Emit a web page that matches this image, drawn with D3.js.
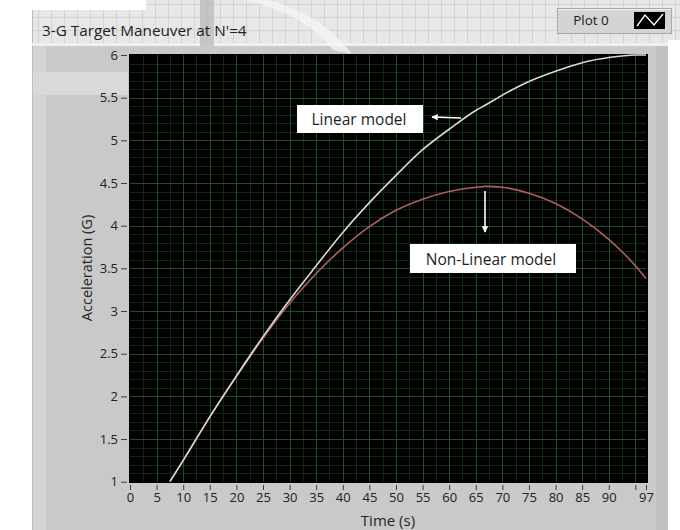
<!DOCTYPE html>
<html>
<head>
<meta charset="utf-8">
<script src="https://cdn.jsdelivr.net/npm/d3@7"></script>
<style>
  html, body { margin: 0; padding: 0; background: #ffffff; }
  svg { display: block; }
  text { font-family: "Open Sans", "Noto Sans", sans-serif; }
</style>
</head>
<body>
<svg id="chart" width="680" height="530"></svg>
<script>
// Time samples (s) shared by both acceleration histories
const time = [7.5, 10, 15, 20, 25, 30, 35, 40, 45, 50, 55, 60, 65, 67, 70, 75, 80, 85, 90, 95, 97];
// Missile acceleration (G), linear engagement model
const linearAccel = [1.0, 1.25, 1.76, 2.24, 2.70, 3.13, 3.53, 3.92, 4.27, 4.59, 4.89, 5.13, 5.35, 5.42, 5.53, 5.69, 5.81, 5.91, 5.97, 6.0, 6.0];
// Missile acceleration (G), non-linear engagement model
const nonLinearAccel = [1.0, 1.25, 1.76, 2.23, 2.68, 3.09, 3.44, 3.74, 3.99, 4.18, 4.31, 4.40, 4.45, 4.46, 4.45, 4.38, 4.26, 4.08, 3.84, 3.53, 3.38];

const xTicks = [0, 5, 10, 15, 20, 25, 30, 35, 40, 45, 50, 55, 60, 65, 70, 75, 80, 85, 90, 95, 97];
const xTickLabels = ["0", "5", "10", "15", "20", "25", "30", "35", "40", "45", "50", "55", "60", "65", "70", "75", "80", "85", "90", "", "97"];
const yTicks = [1, 1.5, 2, 2.5, 3, 3.5, 4, 4.5, 5, 5.5, 6];
const yTickLabels = ["1", "1.5", "2", "2.5", "3", "3.5", "4", "4.5", "5", "5.5", "6"];

const svg = d3.select("#chart");

// ---- front panel / graph frame ----
const frame = svg.append("g");
// title strip with the panel grid
frame.append("rect").attr("x", 32).attr("y", 0).attr("width", 648).attr("height", 46).attr("fill", "#e7e7e7");
const gridStrip = frame.append("g").attr("stroke", "#d2d2d2").attr("stroke-width", 1);
for (let gx = 38; gx < 680; gx += 13) {
  gridStrip.append("line").attr("x1", gx + 0.5).attr("x2", gx + 0.5).attr("y1", 0).attr("y2", 46);
}
[4, 17, 30, 43].forEach(gy => gridStrip.append("line").attr("x1", 32).attr("x2", 680).attr("y1", gy + 0.5).attr("y2", gy + 0.5));

// graph body
frame.append("rect").attr("x", 32).attr("y", 46).attr("width", 636).attr("height", 484).attr("fill", "#c9c9c9");
frame.append("rect").attr("x", 33).attr("y", 46).attr("width", 13).attr("height", 484).attr("fill", "#d3d3d3");
frame.append("line").attr("x1", 32.5).attr("x2", 32.5).attr("y1", 0).attr("y2", 530).attr("stroke", "#bcbcbc");
frame.append("rect").attr("x", 656).attr("y", 46).attr("width", 12).attr("height", 484).attr("fill", "#c0c0c0");
frame.append("rect").attr("x", 668).attr("y", 40).attr("width", 12).attr("height", 490).attr("fill", "#ffffff");
frame.append("rect").attr("x", 32).attr("y", 43).attr("width", 636).attr("height", 3).attr("fill", "#f0f0f0");

// large faint letterform crossing the top of the panel
const mark = svg.append("g");
mark.append("rect").attr("x", 0).attr("y", 0).attr("width", 146).attr("height", 10).attr("fill", "#ffffff");
mark.append("rect").attr("x", 200).attr("y", 0).attr("width", 14).attr("height", 46).attr("fill", "#b9b9b9").attr("opacity", 0.75);
mark.append("path")
  .attr("d", "M243,0 L268,0 C300,8 330,25 352,54 L333,50 C318,30 290,10 243,0 Z")
  .attr("fill", "#f6f6f6").attr("opacity", 0.75);
mark.append("rect").attr("x", 33).attr("y", 72).attr("width", 95).attr("height", 23).attr("fill", "#d9d9d9");

// title
svg.append("text").attr("x", 42).attr("y", 36).attr("font-size", 15.3).attr("fill", "#1e1e1e")
  .text("3-G Target Maneuver at N'=4");

// plot legend
const leg = svg.append("g");
leg.append("rect").attr("x", 557.5).attr("y", 8.5).attr("width", 114).attr("height", 25)
  .attr("fill", "#d4d4d4").attr("stroke", "#a9a9a9");
leg.append("line").attr("x1", 558).attr("x2", 671).attr("y1", 9.5).attr("y2", 9.5).attr("stroke", "#f0f0f0");
leg.append("text").attr("x", 591).attr("y", 25).attr("font-size", 13.5).attr("text-anchor", "middle").attr("fill", "#1e1e1e").text("Plot 0");
leg.append("rect").attr("x", 634).attr("y", 12).attr("width", 31).attr("height", 17).attr("fill", "#000");
leg.append("path").attr("d", "M637,26 L645,15 L654,25 L663,14").attr("fill", "none").attr("stroke", "#ffffff").attr("stroke-width", 1.3);

// ---- plot area ----
const x = d3.scaleLinear().domain([0, 97]).range([130, 646]);
const y = d3.scaleLinear().domain([1, 6]).range([481.7, 55]);

const plot = svg.append("g");
plot.append("rect").attr("x", 129).attr("y", 54).attr("width", 519).attr("height", 429).attr("fill", "#000");

const minorX = d3.range(0, 97, 2.5).filter(v => v % 5 !== 0);
const minorY = d3.range(1, 6.001, 0.1).map(v => +v.toFixed(1)).filter(v => Math.abs(v * 2 - Math.round(v * 2)) > 1e-6);
const majorX = d3.range(5, 97, 5);
const majorY = yTicks.slice(1, -1);

plot.append("g").selectAll("line").data(minorX).join("line")
  .attr("x1", d => Math.round(x(d)) + 0.5).attr("x2", d => Math.round(x(d)) + 0.5)
  .attr("y1", y(6)).attr("y2", y(1)).attr("stroke", "#0f2713");
plot.append("g").selectAll("line").data(minorY).join("line")
  .attr("y1", d => Math.round(y(d)) + 0.5).attr("y2", d => Math.round(y(d)) + 0.5)
  .attr("x1", x(0)).attr("x2", x(97)).attr("stroke", "#0f2713");
plot.append("g").selectAll("line").data(majorX).join("line")
  .attr("x1", d => Math.round(x(d)) + 0.5).attr("x2", d => Math.round(x(d)) + 0.5)
  .attr("y1", y(6)).attr("y2", y(1)).attr("stroke", "#214d25");
plot.append("g").selectAll("line").data(majorY).join("line")
  .attr("y1", d => Math.round(y(d)) + 0.5).attr("y2", d => Math.round(y(d)) + 0.5)
  .attr("x1", x(0)).attr("x2", x(97)).attr("stroke", "#214d25");

svg.append("clipPath").attr("id", "plotClip")
  .append("rect").attr("x", 129).attr("y", 54).attr("width", 519).attr("height", 429);

const line = d3.line().curve(d3.curveMonotoneX)
  .x(d => x(d[0])).y(d => y(d[1]));

const curves = plot.append("g").attr("clip-path", "url(#plotClip)");
curves.append("path").datum(time.map((t, i) => [t, nonLinearAccel[i]]))
  .attr("d", line).attr("fill", "none").attr("stroke", "#b0605a").attr("stroke-width", 1.6);
curves.append("path").datum(time.map((t, i) => [t, linearAccel[i]]))
  .attr("d", line).attr("fill", "none").attr("stroke", "#d9d9d9").attr("stroke-width", 1.6);

// ---- axes ----
const yAxis = svg.append("g").attr("transform", "translate(127,0)")
  .call(d3.axisLeft(y).tickValues(yTicks).tickSize(6).tickPadding(3)
    .tickFormat((d, i) => yTickLabels[i]));
const xAxis = svg.append("g").attr("transform", "translate(0,485)")
  .call(d3.axisBottom(x).tickValues(xTicks).tickSize(5).tickPadding(3)
    .tickFormat((d, i) => xTickLabels[i]));
[yAxis, xAxis].forEach(a => {
  a.select(".domain").remove();
  a.selectAll(".tick line").attr("stroke", "#3c3c3c");
  a.selectAll(".tick text").attr("fill", "#222").attr("font-size", 13)
    .attr("font-family", "\"Open Sans\", \"Noto Sans\", sans-serif");
});

svg.append("text").attr("transform", "translate(92,268) rotate(-90)")
  .attr("text-anchor", "middle").attr("font-size", 14.5).attr("fill", "#262626")
  .text("Acceleration (G)");
svg.append("text").attr("x", 388).attr("y", 526)
  .attr("text-anchor", "middle").attr("font-size", 15).attr("fill", "#262626")
  .text("Time (s)");

// ---- annotations ----
const notes = svg.append("g");
notes.append("rect").attr("x", 297).attr("y", 105).attr("width", 126).attr("height", 28).attr("fill", "#fff");
notes.append("text").attr("x", 359).attr("y", 125).attr("text-anchor", "middle").attr("font-size", 15.5).attr("fill", "#1e1e1e")
  .text("Linear model");
notes.append("rect").attr("x", 410).attr("y", 244).attr("width", 166).attr("height", 29).attr("fill", "#fff");
notes.append("text").attr("x", 491).attr("y", 264.5).attr("text-anchor", "middle").attr("font-size", 15.5).attr("fill", "#1e1e1e")
  .text("Non-Linear model");

svg.append("defs").append("marker").attr("id", "head").attr("viewBox", "0 0 10 10")
  .attr("refX", 9).attr("refY", 5).attr("markerWidth", 4).attr("markerHeight", 4).attr("orient", "auto")
  .append("path").attr("d", "M0,0 L10,5 L0,10 Z").attr("fill", "#fff");
notes.append("line").attr("x1", 461).attr("y1", 118).attr("x2", 432).attr("y2", 117)
  .attr("stroke", "#fff").attr("stroke-width", 1.6).attr("marker-end", "url(#head)");
notes.append("line").attr("x1", 485).attr("y1", 191).attr("x2", 485).attr("y2", 232)
  .attr("stroke", "#fff").attr("stroke-width", 1.6).attr("marker-end", "url(#head)");
</script>
</body>
</html>
